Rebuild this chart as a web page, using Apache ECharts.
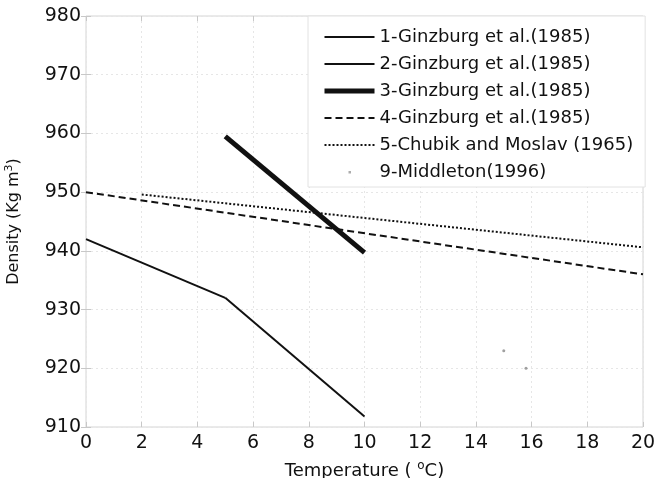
<!DOCTYPE html>
<html>
<head>
<meta charset="utf-8">
<script src="https://cdn.jsdelivr.net/npm/echarts@6.0.0/dist/echarts.min.js"></script>
<style>
  html, body { margin: 0; padding: 0; background: #fff; }
  #chart { width: 656px; height: 478px; }
</style>
</head>
<body>
<div id="chart"></div>
<script>
// series data: temperature (°C) and density (kg/m3)
const names = [
  '1-Ginzburg et al.(1985)',
  '2-Ginzburg et al.(1985)',
  '3-Ginzburg et al.(1985)',
  '4-Ginzburg et al.(1985)',
  '5-Chubik and Moslav (1965)',
  '9-Middleton(1996)'
]
const temp1 = [0, 5]
const dens1 = [942, 932]
const temp2 = [5, 10]
const dens2 = [932, 911.8]
const temp3 = [5, 10]
const dens3 = [959.5, 939.7]
const temp4 = [0, 20]
const dens4 = [950, 936]
const temp5 = [2, 20]
const dens5 = [949.6, 940.6]
const temp9 = [15, 15.8]
const dens9 = [923, 920]

const xTicks = { min: 0, max: 20, interval: 2 }
const yTicks = { min: 910, max: 980, interval: 10 }

const pairs = (xs, ys) => xs.map((x, i) => [x, ys[i]])

const chart = echarts.init(document.getElementById('chart'))

const lineSeries = (name, xs, ys, width, type) => ({
  name,
  type: 'line',
  data: pairs(xs, ys),
  symbol: 'none',
  itemStyle: { color: '#111' },
  lineStyle: { color: '#111', width, type },
  z: 3
})

const tickColor = '#c8c8c8'
const splitStyle = { show: true, lineStyle: { color: '#e6e6e6', type: [2, 3] } }
const hideSym = { opacity: 0 }

const option = {
  animation: false,
  textStyle: { fontFamily: 'DejaVu Sans' },
  grid: {
    left: 86, right: 13, top: 16, bottom: 51,
    outerBoundsMode: 'none',
    show: true, borderColor: '#d4d4d4', borderWidth: 1
  },
  legend: {
    orient: 'vertical',
    left: 308,
    top: 16,
    padding: [12, 12, 6, 14],
    itemWidth: 50,
    itemHeight: 14,
    itemGap: 9,
    selectedMode: false,
    backgroundColor: '#fff',
    borderColor: '#e2e2e2',
    borderWidth: 1,
    textStyle: { fontFamily: 'DejaVu Sans', fontSize: 18, color: '#111', lineHeight: 16 },
    data: [
      { name: names[0], itemStyle: hideSym, lineStyle: { width: 2 } },
      { name: names[1], itemStyle: hideSym, lineStyle: { width: 2 } },
      { name: names[2], itemStyle: hideSym, lineStyle: { width: 5 } },
      { name: names[3], itemStyle: hideSym, lineStyle: { width: 2, type: [7, 4] } },
      { name: names[4], itemStyle: hideSym, lineStyle: { width: 2, type: [2, 2] } },
      { name: names[5], icon: 'path://M0,0M50,14M24,6h2.5v2.5h-2.5z', itemStyle: { color: '#999' } }
    ]
  },
  xAxis: [
    {
      type: 'value', ...xTicks,
      name: 'Temperature ( {sup|o}C)',
      nameLocation: 'middle',
      nameGap: 33,
      nameTextStyle: {
        fontSize: 18, color: '#111',
        rich: { sup: { fontSize: 12, verticalAlign: 'top', lineHeight: 22 } }
      },
      axisLine: { show: false },
      axisTick: { show: true, inside: true, length: 5, lineStyle: { color: tickColor } },
      axisLabel: { fontSize: 19, color: '#111', margin: 7 },
      splitLine: splitStyle
    },
    {
      type: 'value', ...xTicks, position: 'top',
      axisLine: { show: false },
      axisTick: { show: true, inside: true, length: 5, lineStyle: { color: tickColor } },
      axisLabel: { show: false },
      splitLine: { show: false }
    }
  ],
  yAxis: [
    {
      type: 'value', ...yTicks,
      name: 'Density (Kg m{sup|3})',
      nameLocation: 'middle',
      nameRotate: 90,
      nameGap: 62,
      nameTextStyle: {
        fontSize: 16, color: '#111',
        rich: { sup: { fontSize: 11, verticalAlign: 'top', lineHeight: 20 } }
      },
      axisLine: { show: false },
      axisTick: { show: true, inside: true, length: 5, lineStyle: { color: tickColor } },
      axisLabel: { fontSize: 19, color: '#111', margin: 5 },
      splitLine: splitStyle
    },
    {
      type: 'value', ...yTicks, position: 'right',
      axisLine: { show: false },
      axisTick: { show: true, inside: true, length: 5, lineStyle: { color: tickColor } },
      axisLabel: { show: false },
      splitLine: { show: false }
    }
  ],
  series: [
    lineSeries(names[0], temp1, dens1, 2, 'solid'),
    lineSeries(names[1], temp2, dens2, 2, 'solid'),
    lineSeries(names[2], temp3, dens3, 5, 'solid'),
    lineSeries(names[3], temp4, dens4, 2, [7, 4]),
    lineSeries(names[4], temp5, dens5, 2, [2, 2]),
    {
      name: names[5],
      type: 'scatter',
      data: pairs(temp9, dens9),
      symbol: 'circle',
      symbolSize: 3,
      itemStyle: { color: '#888' }
    }
  ]
}

chart.setOption(option)
</script>
</body>
</html>
